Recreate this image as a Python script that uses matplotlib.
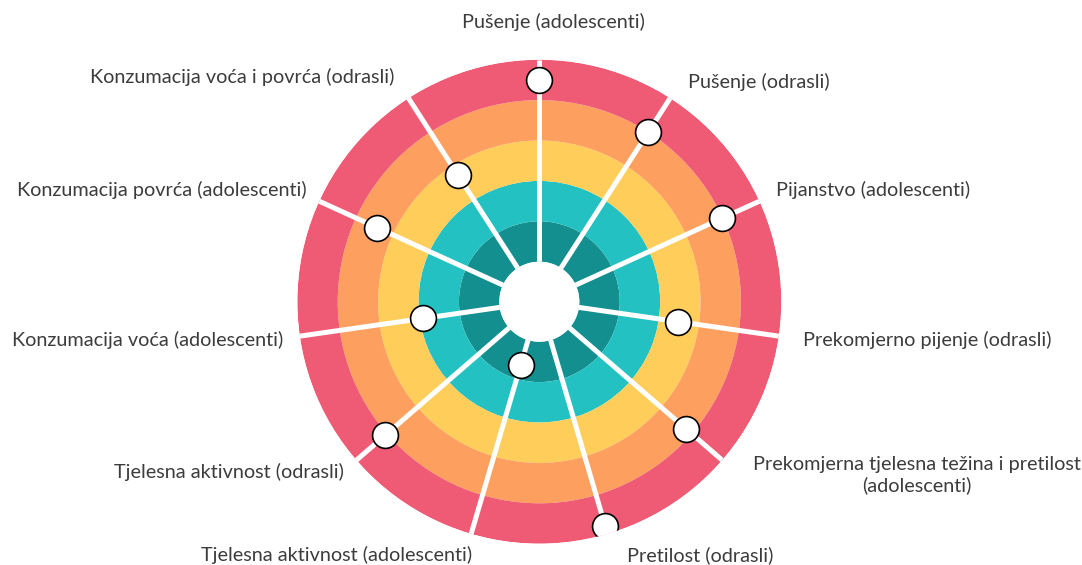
import numpy as np
import matplotlib
matplotlib.use('Agg')
import matplotlib.pyplot as plt

# categories clockwise from the top
categories = [
    "Pušenje (adolescenti)",
    "Pušenje (odrasli)",
    "Pijanstvo (adolescenti)",
    "Prekomjerno pijenje (odrasli)",
    "Prekomjerna tjelesna težina i pretilost\n(adolescenti)",
    "Pretilost (odrasli)",
    "Tjelesna aktivnost (adolescenti)",
    "Tjelesna aktivnost (odrasli)",
    "Konzumacija voća (adolescenti)",
    "Konzumacija povrća (adolescenti)",
    "Konzumacija voća i povrća (odrasli)",
]
# position of each marker on the 0..5 ring scale
scores = [4.5, 4.0, 3.97, 2.48, 3.83, 4.79, 0.63, 4.06, 1.93, 3.42, 2.73]
# ring bands from the centre outwards
ring_edges = [0, 1, 2, 3, 4, 5]
ring_colors = ["#148f8f", "#23c1c1", "#fecd5a", "#fd9f5e", "#ef5b74"]

# label placement: offset from the spoke end in pixels, and alignment
label_offsets = [(14, 38, "center"), (18, 16, "left"), (17, 11, "left"),
                 (24, -4, "left"), (31, -15, "left"), (20, -21, "left"),
                 (1, -21, "right"), (-13, -12, "right"), (-17, -4, "right"),
                 (-13, 11, "right"), (-14, 21, "right")]

plt.rcParams['font.family'] = ['Lato', 'DejaVu Sans']

fig = plt.figure(figsize=(10.82, 5.65), dpi=100)
ax = fig.add_axes([0.2748, 0.0377, 0.4473, 0.8566], projection='polar')
ax.set_theta_zero_location('N')
ax.set_theta_direction(-1)
ax.set_ylim(0, 5)
ax.set_rorigin(-0.99)
ax.set_axis_off()

for lo, hi, c in zip(ring_edges[:-1], ring_edges[1:], ring_colors):
    ax.bar(0, hi - lo, width=2 * np.pi, bottom=lo, color=c, linewidth=0)

n = len(categories)
theta = np.arange(n) * 2 * np.pi / n
for t in theta:
    ax.plot([t, t], [-0.99, 5], color='white', lw=3.6, solid_capstyle='butt')

ax.plot(theta, scores, 'o', ls='none', ms=18.6, mfc='white', mec='black', mew=1.2, zorder=5)

for t, lab, (dx, dy, ha) in zip(theta, categories, label_offsets):
    ax.annotate(lab, xy=(t, 5), xytext=(dx, dy), textcoords='offset pixels',
                ha=ha, va='center', fontsize=14.3, color='#3c3c3c',
                multialignment='center', annotation_clip=False)

fig.savefig('out.png', dpi=100)
